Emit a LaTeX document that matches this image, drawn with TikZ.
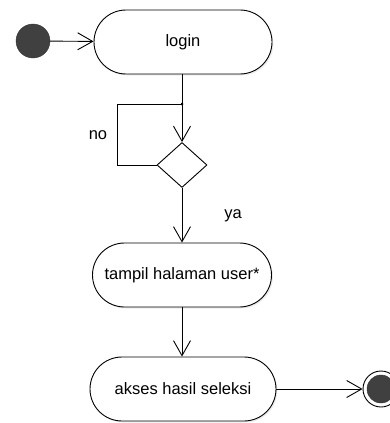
\documentclass[tikz,border=0pt]{standalone}
\usepackage{fontspec}
\setmainfont{Liberation Sans}
\usetikzlibrary{arrows.meta,shapes.geometric,shadows}

\begin{document}
\begin{tikzpicture}[x=1pt, y=-1pt,
    every node/.style={font=\fontsize{16.5}{19}\selectfont},
    action/.style={draw, line width=0.9pt, fill=white, rounded corners=32pt,
        minimum height=64pt, inner sep=0pt,
        drop shadow={opacity=0.15, shadow xshift=1.5pt, shadow yshift=-1.5pt}},
    decision/.style={draw, diamond, line width=0.9pt, fill=white, inner sep=0pt,
        minimum width=50pt, minimum height=45pt, aspect=1.1},
    startdot/.style={circle, draw=black!80, fill=black!75, minimum size=34pt, inner sep=0pt},
    flow/.style={line width=0.9pt, -{Straight Barb[length=15pt, width=17pt, line width=0.9pt]}},
    lbl/.style={inner sep=0pt}]

\useasboundingbox (0,0) rectangle (390,423);

% nodes
\node[startdot] (start) at (33,41) {};
\node[action, minimum width=178pt] (login) at (183,42) {login};
\node[decision] (cek) at (182,165) {};
\node[action, minimum width=179pt] (tampil) at (182,275) {tampil halaman user*};
\node[action, minimum width=186pt] (akses) at (183,389) {akses hasil seleksi};
\node[circle, draw, line width=0.9pt, fill=white, minimum size=36pt, inner sep=0pt] (stop) at (381,389) {};
\node[startdot, minimum size=28pt] at (stop) {};
\coordinate (gabung) at (182,104);

% labels
\node[lbl] (no) at (98,135) {no};
\node[lbl] (ya) at (233,216) {ya};

% connectors
\draw[flow] (start) -- (login);
\draw[flow] (login.south -| cek) -- (cek.north);
\draw[line width=0.9pt, -{Latex[length=3pt, width=3pt]}] (cek.west) -- ++(-39,0) |- ([xshift=2pt]gabung);
\draw[flow] (cek.south) -- (tampil.north -| cek);
\draw[flow] (tampil.south -| cek) -- (akses.north -| cek);
\draw[flow] (akses) -- (stop);

\end{tikzpicture}
\end{document}
